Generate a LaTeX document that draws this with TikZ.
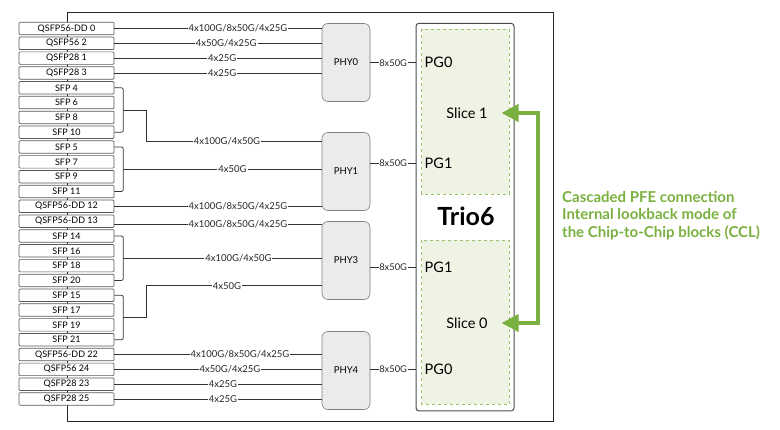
\documentclass[tikz,border=0pt]{standalone}
\usepackage{fontspec}
\setmainfont{Lato}
\usetikzlibrary{arrows.meta,calc}
\definecolor{gr}{HTML}{7AB03F}
\definecolor{slicefill}{HTML}{EEF3E3}
\definecolor{slicedash}{HTML}{9CC46A}
\begin{document}
\begin{tikzpicture}[x=1pt,y=-1pt,
 conn/.style={draw=black!80, line width=0.75pt},
 port/.style={draw=black!65, fill=white, rounded corners=1pt, minimum width=95pt, minimum height=12.5pt, inner sep=0pt, font=\fontsize{9}{10}\selectfont, line width=0.7pt},
 phybox/.style={draw=black!50, fill=black!8, rounded corners=6pt, minimum width=48pt, minimum height=78pt, font=\fontsize{9.5}{10}\selectfont, line width=0.6pt},
 lbl/.style={fill=white, inner sep=1pt, font=\fontsize{9.5}{11}\selectfont, text=black!85},
 slbl/.style={fill=white, inner sep=0.8pt, font=\fontsize{9.3}{10}\selectfont, text=black!85},
 slicebox/.style={draw=slicedash, fill=slicefill, dashed, line width=0.7pt},
 pg/.style={anchor=west, inner sep=0pt, font=\fontsize{14.5}{16}\selectfont},
 garrow/.style={draw=gr, line width=4pt, {Triangle[length=17pt,width=17pt]}-{Triangle[length=17pt,width=17pt]}}
]
\useasboundingbox (0,0) rectangle (780,430);
% board
\draw[draw=black!85, line width=0.9pt] (67,12) rectangle (553,421);
% ports
\foreach \lab [count=\i from 0] in {QSFP56-DD 0, QSFP56 2, QSFP28 1, QSFP28 3, SFP 4, SFP 6, SFP 8, SFP 10, SFP 5, SFP 7, SFP 9, SFP 11, QSFP56-DD 12, QSFP56-DD 13, SFP 14, SFP 16, SFP 18, SFP 20, SFP 15, SFP 17, SFP 19, SFP 21, QSFP56-DD 22, QSFP56 24, QSFP28 23, QSFP28 25}
  \node[port] (p\i) at (66.5,{28.5+14.82*\i}) {\lab};
% PHYs
\node[phybox] (phy0) at (346,62.5) {PHY0};
\node[phybox] (phy1) at (346,171.5) {PHY1};
\node[phybox] (phy3) at (346,260.5) {PHY3};
\node[phybox] (phy4) at (346,370.5) {PHY4};
% Trio6
\draw[draw=black!70, fill=white, line width=1pt, rounded corners=3pt] (416,23.3) rectangle (514,411);
\draw[slicebox] (421.7,29.3) rectangle (509.3,194);
\draw[slicebox] (421.7,240) rectangle (509.3,404);
\node[font=\fontsize{25}{27}\selectfont\bfseries] (trio) at (466,216) {Trio6};
\coordinate (triow) at (416,216);
\node[font=\fontsize{14.5}{16}\selectfont] (s1) at (467,113) {Slice 1};
\node[font=\fontsize{14.5}{16}\selectfont] (s0) at (467,323) {Slice 0};
\node[pg] (pg0a) at (424.5,62.7) {PG0};
\node[pg] (pg1a) at (424.5,163.3) {PG1};
\node[pg] (pg1b) at (424.5,267.3) {PG1};
\node[pg] (pg0b) at (424.5,369.3) {PG0};
% PHY to Trio
\draw[conn] (pg0a.west -| phy0.east) -- (pg0a.west -| triow) node[slbl,midway] {8x50G};
\draw[conn] (pg1a.west -| phy1.east) -- (pg1a.west -| triow) node[slbl,midway] {8x50G};
\draw[conn] (pg1b.west -| phy3.east) -- (pg1b.west -| triow) node[slbl,midway] {8x50G};
\draw[conn] (pg0b.west -| phy4.east) -- (pg0b.west -| triow) node[slbl,midway] {8x50G};
% PHY0 ports
\draw[conn] (p0.east) -- (p0.east -| phy0.west) node[lbl,pos=.596] {4x100G/8x50G/4x25G};
\draw[conn] (p1.east) -- (p1.east -| phy0.west) node[lbl,pos=.54] {4x50G/4x25G};
\draw[conn] (p2.east) -- (p2.east -| phy0.west) node[lbl,pos=.52] {4x25G};
\draw[conn] (p3.east) -- (p3.east -| phy0.west) node[lbl,pos=.52] {4x25G};
% group A -> PHY1
\draw[conn, rounded corners=2pt] (p4.east) -- ++(9,0) |- (p7.east);
\coordinate (ga) at ($(p4.east)!.5!(p7.east)+(9,0)$);
\coordinate (ea) at ([yshift=29.8pt]phy1.west);
\draw[conn] (ga) -- ++(23,0) |- (ea) node[lbl,pos=.73] {4x100G/4x50G};
% group B -> PHY1
\draw[conn, rounded corners=2pt] (p8.east) -- ++(9,0) |- (p11.east);
\coordinate (gb) at ($(p8.east)!.5!(p11.east)+(9,0)$);
\draw[conn] (gb) -- (gb -| phy1.west) node[lbl,pos=.55] {4x50G};
\draw[conn] (p12.east) -- (p12.east -| phy1.west) node[lbl,pos=.596] {4x100G/8x50G/4x25G};
% PHY3
\coordinate (q13) at ([yshift=-3.5pt]p13.east);
\draw[conn] (q13) -- (q13 -| phy3.west) node[lbl,pos=.596] {4x100G/8x50G/4x25G};
\draw[conn, rounded corners=2pt] (p14.east) -- ++(9,0) |- (p17.east);
\coordinate (gc) at ($(p14.east)!.5!(p17.east)+(9,0)$);
\draw[conn] (gc) -- (gc -| phy3.west) node[lbl,pos=.58] {4x100G/4x50G};
\draw[conn, rounded corners=2pt] (p18.east) -- ++(9,0) |- (p21.east);
\coordinate (gd) at ($(p18.east)!.5!(p21.east)+(9,0)$);
\coordinate (ed) at ([yshift=-25.2pt]phy3.west);
\draw[conn] (gd) -- ++(23,0) |- (ed) node[lbl,pos=.73] {4x50G};
% PHY4
\draw[conn] (p22.east) -- (p22.east -| phy4.west) node[lbl,pos=.606] {4x100G/8x50G/4x25G};
\draw[conn] (p23.east) -- (p23.east -| phy4.west) node[lbl,pos=.558] {4x50G/4x25G};
\draw[conn] (p24.east) -- (p24.east -| phy4.west) node[lbl,pos=.524] {4x25G};
\draw[conn] (p25.east) -- (p25.east -| phy4.west) node[lbl,pos=.524] {4x25G};
% green arrow
\coordinate (t1) at (501.5,113);
\coordinate (g1) at (538,113);
\coordinate (g0) at (538,323);
\coordinate (t0) at (501.5,323);
\draw[garrow] (t1) -- (g1) -- (g0) -- (t0);
\node[anchor=west, align=left, text=gr, inner sep=0pt, font=\fontsize{15}{17.6}\selectfont\bfseries] (note) at (562,215.5) {Cascaded PFE connection\\Internal lookback mode of\\the Chip-to-Chip blocks (CCL)};
\end{tikzpicture}
\end{document}
